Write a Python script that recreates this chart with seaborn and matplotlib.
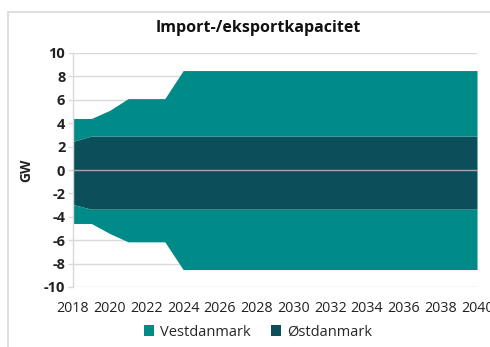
import matplotlib
matplotlib.use("Agg")
import matplotlib.pyplot as plt
from matplotlib.lines import Line2D
from matplotlib.patches import Patch
import seaborn as sns
import pandas as pd

years = list(range(2018, 2041))

# Import capacity (positive) per region, GW
ost_import = [2.45, 2.9, 2.9, 2.9, 2.9, 2.9] + [2.9] * 17
vest_import = [1.95, 1.5, 2.2, 3.2, 3.2, 3.2] + [5.6] * 17
# Export capacity (negative) per region, GW
ost_export = [-2.95, -3.35, -3.35, -3.35, -3.35, -3.35] + [-3.35] * 17
vest_export = [-1.62, -1.22, -2.08, -2.79, -2.79, -2.79] + [-5.16] * 17

series_names = ["Vestdanmark", "Østdanmark"]
colors = {"Vestdanmark": "#008a88", "Østdanmark": "#0c4f5b"}

df = pd.DataFrame({
    "year": years,
    "ost_imp": ost_import, "vest_imp": vest_import,
    "ost_exp": ost_export, "vest_exp": vest_export,
})

sns.set_theme(style="white")
plt.rcParams["font.family"] = ["Open Sans", "DejaVu Sans"]
plt.rcParams["axes.unicode_minus"] = False

fig = plt.figure(figsize=(4.9, 3.47), dpi=100)
ax = fig.add_axes([73 / 490, 1 - 287 / 347, 404 / 490, 234 / 347])

ax.stackplot(df["year"], df["ost_imp"], df["vest_imp"],
             colors=[colors["Østdanmark"], colors["Vestdanmark"]], linewidth=0)
ax.stackplot(df["year"], df["ost_exp"], df["vest_exp"],
             colors=[colors["Østdanmark"], colors["Vestdanmark"]], linewidth=0)
sns.lineplot(x=[years[0], years[-1]], y=[0, 0], ax=ax, color="#a6a6a6", lw=1.0, zorder=3)

ax.set_xlim(2018, 2040)
ax.set_ylim(-10, 10)
ax.set_yticks(range(-10, 11, 2))
ax.set_xticks(range(2018, 2041, 2))
ax.set_axisbelow(True)
ax.yaxis.grid(True, color="#d9d9d9", lw=1)
ax.xaxis.grid(False)
for s in ["top", "right", "bottom"]:
    ax.spines[s].set_visible(False)
ax.spines["left"].set_color("#d9d9d9")
ax.spines["left"].set_linewidth(1)
ax.tick_params(axis="y", which="major", left=True, length=3.5, width=1, color="#d9d9d9",
               pad=2, labelsize=10.5, labelcolor="#222222")
ax.tick_params(axis="x", which="major", bottom=False, pad=4, labelsize=10.3,
               labelcolor="#222222")
for lbl in ax.get_yticklabels():
    lbl.set_fontweight("bold")
ax.set_ylabel("GW", fontsize=10, fontweight="bold", color="#222222", labelpad=8)
ax.set_xlabel("")

fig.text(258 / 490, 1 - 28 / 347, "Import-/eksportkapacitet", ha="center", va="center",
         fontsize=11.5, fontweight="bold", color="#111111")

handles = [Patch(facecolor=colors[n], edgecolor="none") for n in series_names]
fig.legend(handles, series_names, loc="center", bbox_to_anchor=(258 / 490, 1 - 332 / 347),
           ncol=2, frameon=False, fontsize=10.5, handlelength=0.7, handleheight=0.7,
           handletextpad=0.4, columnspacing=1.4)

# chart frame
fig.add_artist(Line2D([8 / 490, 8 / 490], [0, 1 - 12 / 347], transform=fig.transFigure,
                      color="#d9d9d9", lw=1.2))
fig.add_artist(Line2D([8 / 490, 1], [1 - 12 / 347, 1 - 12 / 347], transform=fig.transFigure,
                      color="#d9d9d9", lw=1.2))

fig.savefig("out.png", dpi=100)
